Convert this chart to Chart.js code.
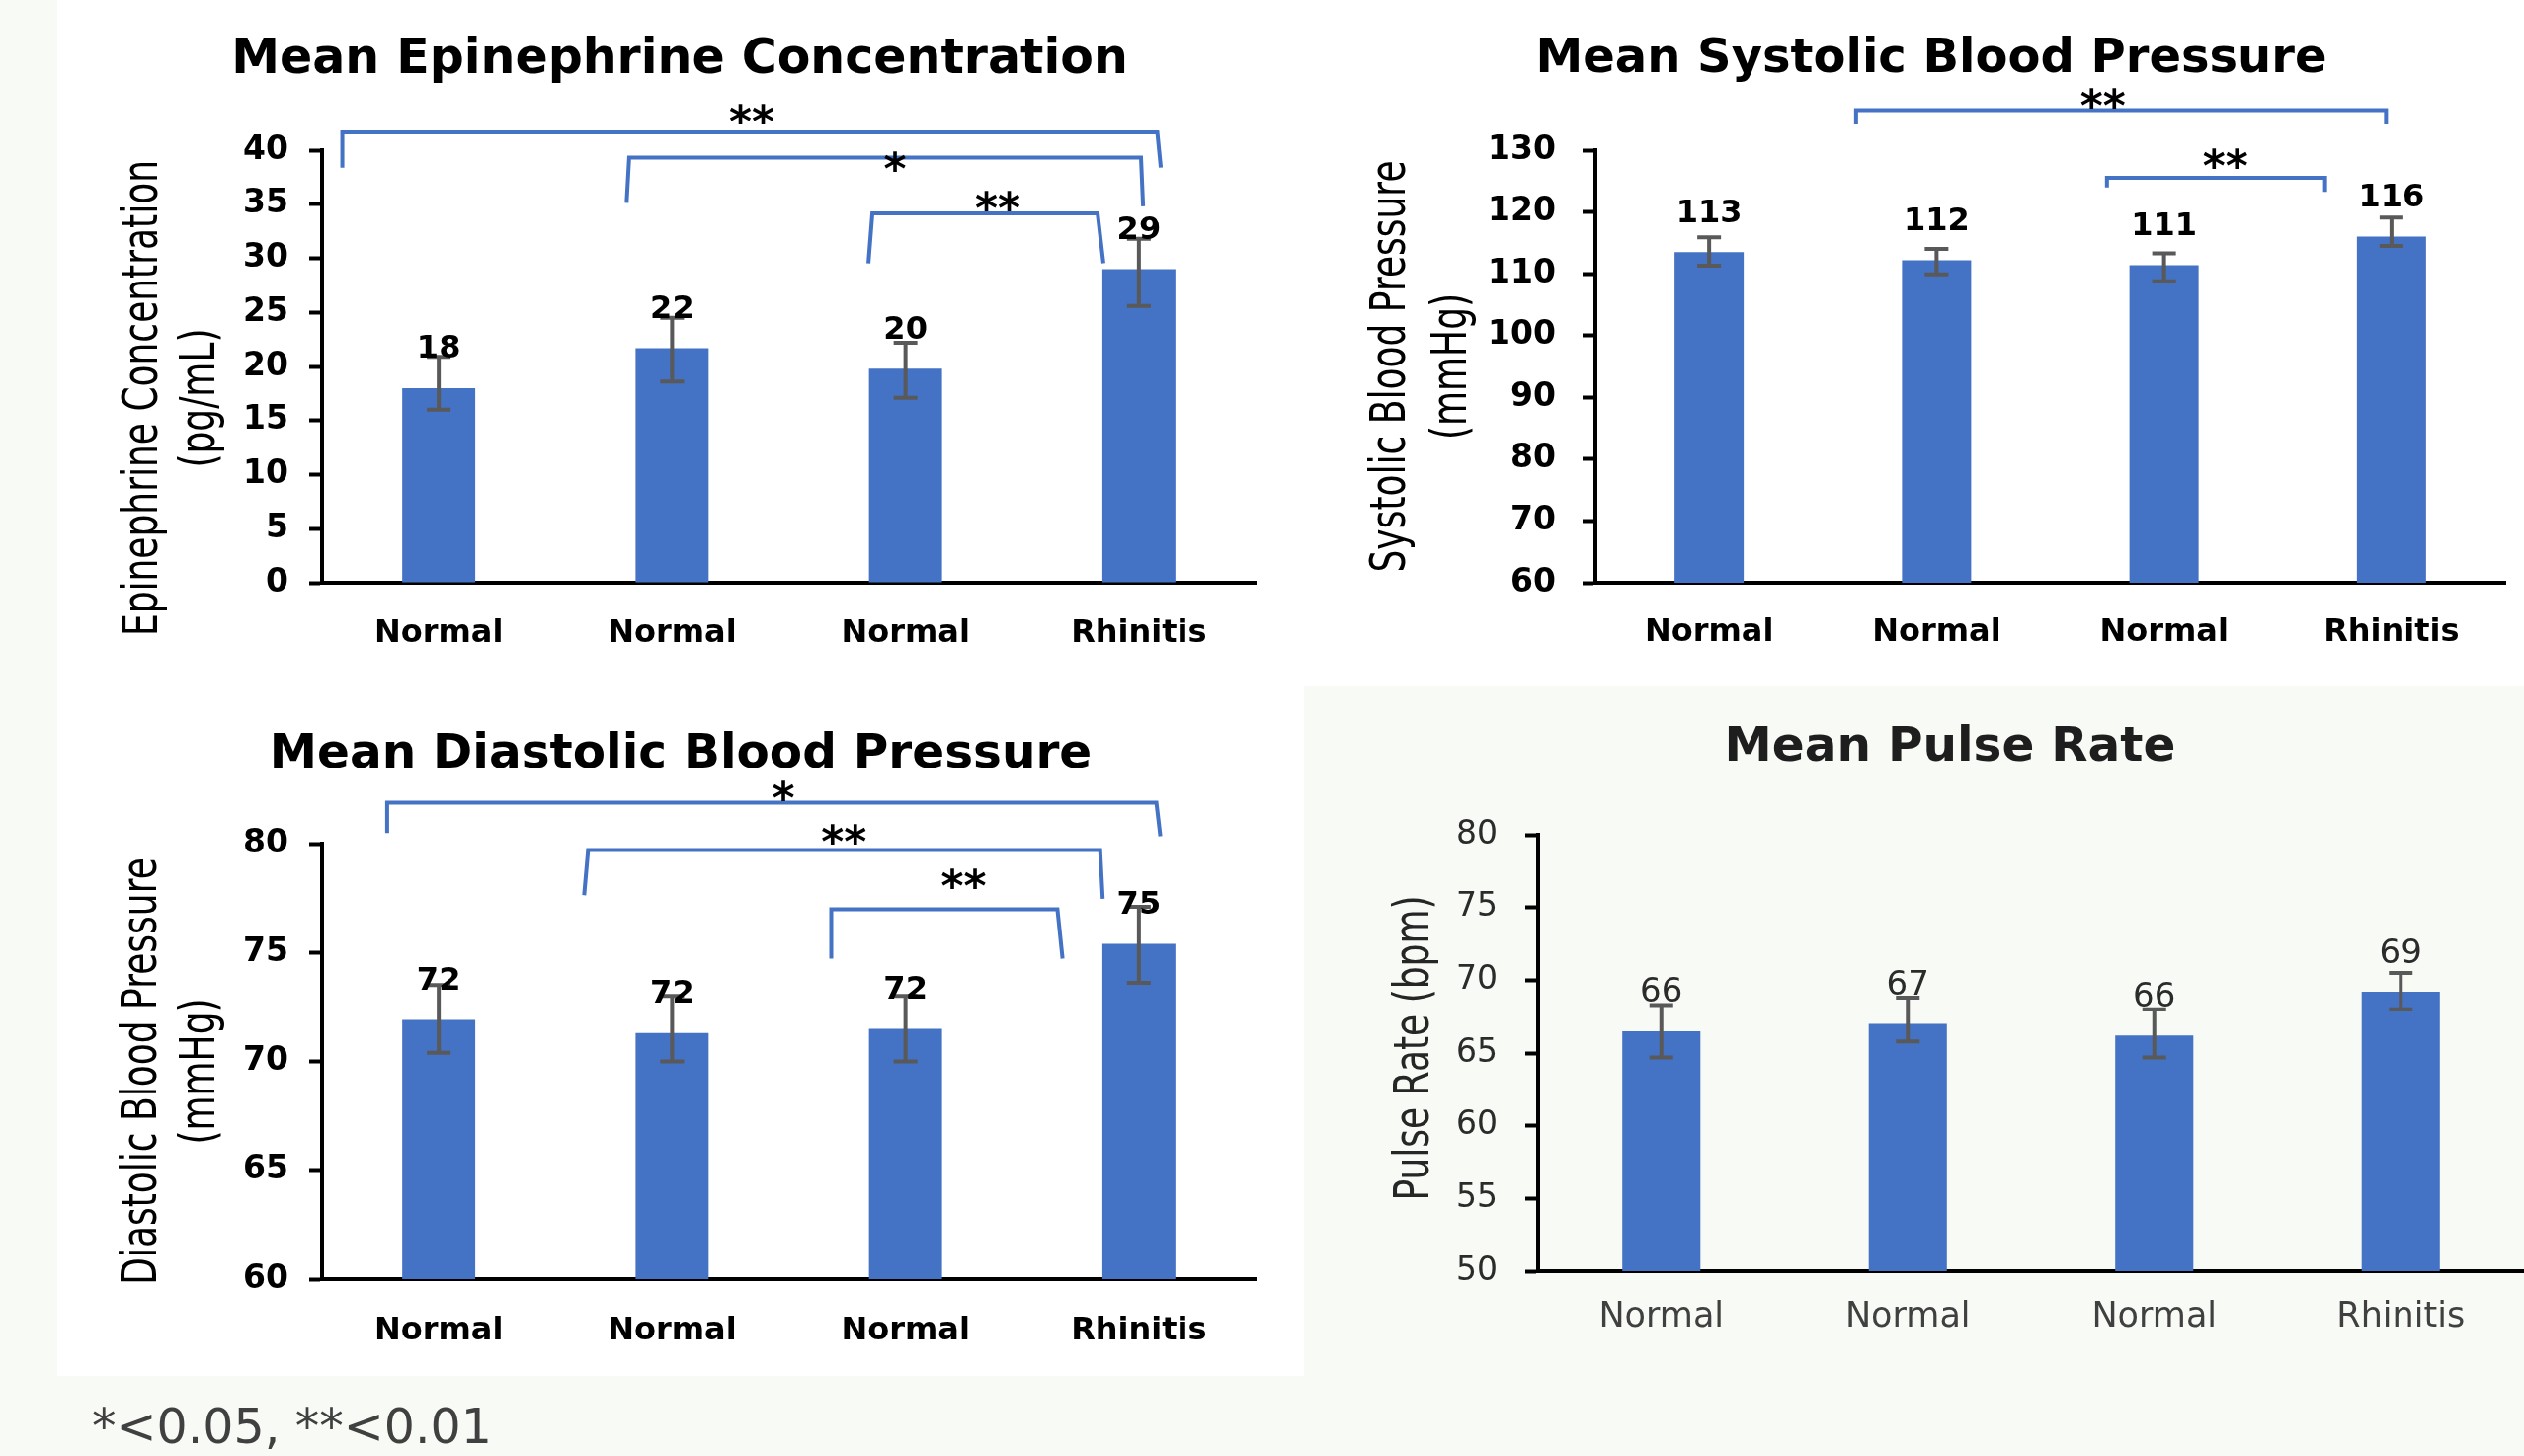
<!DOCTYPE html>
<html><head><meta charset="utf-8">
<script src="https://cdn.jsdelivr.net/npm/chart.js@4.4.1/dist/chart.umd.min.js"></script>
<style>
html,body{margin:0;padding:0;background:#f8faf5;width:2555px;height:1474px;overflow:hidden;}
.panel{position:absolute;background:#ffffff;}
canvas{position:absolute;}
#note{position:absolute;left:93px;top:1420px;font-family:'DejaVu Sans',sans-serif;font-size:49px;line-height:49px;color:#404040;white-space:nowrap;}
</style></head><body>
<div class="panel" style="left:58px;top:0;width:1262px;height:1393px"></div>
<div class="panel" style="left:1320px;top:0;width:1235px;height:694px"></div>
<canvas id="c1" width="1262" height="697" style="left:58px;top:0"></canvas>
<canvas id="c2" width="1235" height="694" style="left:1320px;top:0"></canvas>
<canvas id="c3" width="1262" height="696" style="left:58px;top:697px"></canvas>
<canvas id="c4" width="1235" height="699" style="left:1320px;top:694px"></canvas>
<div id="note">*&lt;0.05, **&lt;0.01</div>
<script>
// ---------------- data ----------------
const categories = ['Normal', 'Normal', 'Normal', 'Rhinitis'];

const epiMean   = [18.0, 21.7, 19.8, 29.0];
const epiHigh   = [20.9, 24.5, 22.2, 31.8];
const epiLow    = [16.0, 18.6, 17.1, 25.6];
const epiLabels = ['18', '22', '20', '29'];
const epiAxis   = [0, 40, 5];

const sysMean   = [113.5, 112.2, 111.4, 116.0];
const sysHigh   = [115.9, 114.0, 113.3, 119.1];
const sysLow    = [111.3, 109.9, 108.8, 114.5];
const sysLabels = ['113', '112', '111', '116'];
const sysAxis   = [60, 130, 10];

const diaMean   = [71.9, 71.3, 71.5, 75.4];
const diaHigh   = [73.5, 73.0, 73.0, 77.1];
const diaLow    = [70.4, 70.0, 70.0, 73.6];
const diaLabels = ['72', '72', '72', '75'];
const diaAxis   = [60, 80, 5];

const pulMean   = [66.5, 67.0, 66.2, 69.2];
const pulHigh   = [68.3, 68.8, 68.0, 70.5];
const pulLow    = [64.7, 65.8, 64.7, 68.0];
const pulLabels = ['66', '67', '66', '69'];
const pulAxis   = [50, 80, 5];

// significance brackets (category index / value units)
const epiBrackets = [
  {x1:-0.413, x1b:-0.413, x2:3.079, x2b:3.094, y:41.65, yb1:38.39, yb2:38.39, mark:'**', mx:1.341, my:43.47},
  {x1:0.816, x1b:0.805, x2:3.009, x2b:3.018, y:39.32, yb1:35.12, yb2:34.80, mark:'*', mx:1.955, my:39.12},
  {x1:1.858, x1b:1.841, x2:2.823, x2b:2.848, y:34.15, yb1:29.54, yb2:29.54, mark:'**', mx:2.395, my:35.45}
];
const sysBrackets = [
  {x1:0.646, x1b:0.646, x2:2.976, x2b:2.976, y:136.46, yb1:134.17, yb2:134.17, mark:'**', mx:1.731, my:138.6},
  {x1:1.749, x1b:1.749, x2:2.708, x2b:2.708, y:125.54, yb1:123.98, yb2:123.26, mark:'**', mx:2.270, my:128.96}
];
const diaBrackets = [
  {x1:-0.221, x1b:-0.221, x2:3.075, x2b:3.092, y:81.88, yb1:80.49, yb2:80.34, mark:'*', mx:1.477, my:82.51},
  {x1:0.640, x1b:0.623, x2:2.834, x2b:2.845, y:79.71, yb1:77.63, yb2:77.47, mark:'**', mx:1.736, my:80.49},
  {x1:1.682, x1b:1.682, x2:2.651, x2b:2.673, y:76.98, yb1:74.72, yb2:74.72, mark:'**', mx:2.249, my:78.48}
];
const pulBrackets = [];

// ---------------- drawing ----------------
Chart.defaults.font.family = "'DejaVu Sans', sans-serif";

const overlay = {
  id: 'overlay',
  afterDatasetsDraw(chart, args, o) {
    const ctx = chart.ctx, xs = chart.scales.x, ys = chart.scales.y;
    ctx.save();
    ctx.strokeStyle = '#595959'; ctx.lineWidth = 4;
    o.high.forEach((h, i) => {
      const px = xs.getPixelForValue(i);
      const t = ys.getPixelForValue(h), b = ys.getPixelForValue(o.low[i]);
      ctx.beginPath();
      ctx.moveTo(px, t); ctx.lineTo(px, b);
      ctx.moveTo(px - 12, t); ctx.lineTo(px + 12, t);
      ctx.moveTo(px - 12, b); ctx.lineTo(px + 12, b);
      ctx.stroke();
    });
    ctx.fillStyle = o.labelColor; ctx.font = o.labelFont;
    ctx.textAlign = 'center'; ctx.textBaseline = 'alphabetic';
    chart.getDatasetMeta(0).data.forEach((bar, i) => {
      ctx.fillText(o.labels[i], bar.x, bar.y - 42 + o.labelCap / 2);
    });
    ctx.restore();
  },
  afterDraw(chart, args, o) {
    const ctx = chart.ctx, xs = chart.scales.x, ys = chart.scales.y, ca = chart.chartArea;
    ctx.save();
    ctx.strokeStyle = '#4472C4'; ctx.lineWidth = 4; ctx.lineJoin = 'miter';
    o.brackets.forEach(b => {
      ctx.beginPath();
      ctx.moveTo(xs.getPixelForValue(b.x1b), ys.getPixelForValue(b.yb1));
      ctx.lineTo(xs.getPixelForValue(b.x1), ys.getPixelForValue(b.y));
      ctx.lineTo(xs.getPixelForValue(b.x2), ys.getPixelForValue(b.y));
      ctx.lineTo(xs.getPixelForValue(b.x2b), ys.getPixelForValue(b.yb2));
      ctx.stroke();
      ctx.fillStyle = '#000'; ctx.font = 'bold 44px "DejaVu Sans"';
      ctx.textAlign = 'center'; ctx.textBaseline = 'alphabetic';
      ctx.fillText(b.mark, xs.getPixelForValue(b.mx), ys.getPixelForValue(b.my) + 24);
    });
    // chart title
    ctx.fillStyle = o.titleColor; ctx.font = o.titleFont;
    ctx.textAlign = 'center'; ctx.textBaseline = 'alphabetic';
    ctx.fillText(o.title, o.titleX, o.titleY);
    // axis title
    o.axisLines.forEach((t, i) => {
      ctx.save();
      ctx.translate(ca.left - o.axisOffsets[i], (ca.top + ca.bottom) / 2 + o.axisDy);
      ctx.rotate(-Math.PI / 2);
      ctx.scale(1, 1.4);
      ctx.font = '36px "DejaVu Sans"'; ctx.fillStyle = o.axisColor;
      ctx.textAlign = 'center'; ctx.textBaseline = 'middle';
      ctx.fillText(t, 0, 0);
      ctx.restore();
    });
    ctx.restore();
  }
};

function makeChart(id, c) {
  return new Chart(document.getElementById(id), {
    type: 'bar',
    data: { labels: categories, datasets: [{ data: c.mean, backgroundColor: '#4472C4', borderWidth: 0, barPercentage: c.barPct, categoryPercentage: 1 }] },
    options: {
      responsive: false, animation: false, devicePixelRatio: 1,
      layout: { padding: c.pad },
      plugins: {
        legend: { display: false }, title: { display: false }, tooltip: { enabled: false },
        overlay: {
          high: c.high, low: c.low, labels: c.labels, labelFont: c.labelFont, labelColor: c.textColor, labelCap: c.labelCap,
          brackets: c.brackets, title: c.title, titleX: c.titleX, titleY: c.titleY, titleFont: c.titleFont, titleColor: c.titleColor,
          axisLines: c.axisLines, axisOffsets: c.axisOffsets, axisDy: c.axisDy, axisColor: c.axisColor
        }
      },
      scales: {
        x: {
          z: 1,
          grid: { display: false, drawTicks: false },
          border: { display: true, color: '#000', width: 4 },
          ticks: { color: c.xColor, font: c.xFont, padding: c.xPad, maxRotation: 0, autoSkip: false },
          afterFit: s => { s.height = c.xH; }
        },
        y: {
          z: 1,
          min: c.axis[0], max: c.axis[1],
          ticks: { stepSize: c.axis[2], color: c.textColor, font: c.yFont, padding: c.yPad },
          grid: { drawOnChartArea: false, drawTicks: true, tickLength: 13, tickWidth: 4, tickColor: '#000', color: '#000' },
          border: { display: true, color: '#000', width: 4 },
          afterFit: s => { s.width = c.yW; }
        }
      }
    },
    plugins: [overlay]
  });
}

const boldTick = { size: 33, weight: 'bold' };
const boldX = { size: 32, weight: 'bold' };

makeChart('c1', {
  mean: epiMean, high: epiHigh, low: epiLow, labels: epiLabels, axis: epiAxis, brackets: epiBrackets,
  pad: { left: 0, right: 49, top: 152, bottom: 0 }, yW: 268, xH: 107, barPct: 0.313,
  textColor: '#000', xColor: '#000', xFont: boldX, xPad: 32, yFont: boldTick, yPad: 21,
  labelFont: 'bold 32px "DejaVu Sans"', labelCap: 23,
  title: 'Mean Epinephrine Concentration', titleX: 630, titleY: 74, titleFont: 'bold 49px "DejaVu Sans"', titleColor: '#000',
  axisLines: ['Epinephrine Concentration', '(pg/mL)'], axisOffsets: [180, 122], axisDy: 32, axisColor: '#000'
});
makeChart('c2', {
  mean: sysMean, high: sysHigh, low: sysLow, labels: sysLabels, axis: sysAxis, brackets: sysBrackets,
  pad: { left: 0, right: 19, top: 152, bottom: 0 }, yW: 295, xH: 104, barPct: 0.304,
  textColor: '#000', xColor: '#000', xFont: boldX, xPad: 31, yFont: boldTick, yPad: 27,
  labelFont: 'bold 32px "DejaVu Sans"', labelCap: 23,
  title: 'Mean Systolic Blood Pressure', titleX: 635, titleY: 73, titleFont: 'bold 48px "DejaVu Sans"', titleColor: '#000',
  axisLines: ['Systolic Blood Pressure', '(mmHg)'], axisOffsets: [206, 144], axisDy: 0, axisColor: '#000'
});
makeChart('c3', {
  mean: diaMean, high: diaHigh, low: diaLow, labels: diaLabels, axis: diaAxis, brackets: diaBrackets,
  pad: { left: 0, right: 49, top: 157, bottom: 0 }, yW: 268, xH: 98, barPct: 0.313,
  textColor: '#000', xColor: '#000', xFont: boldX, xPad: 33, yFont: boldTick, yPad: 21,
  labelFont: 'bold 32px "DejaVu Sans"', labelCap: 23,
  title: 'Mean Diastolic Blood Pressure', titleX: 631, titleY: 80, titleFont: 'bold 48.5px "DejaVu Sans"', titleColor: '#000',
  axisLines: ['Diastolic Blood Pressure', '(mmHg)'], axisOffsets: [181, 122], axisDy: 10, axisColor: '#000'
});
makeChart('c4', {
  mean: pulMean, high: pulHigh, low: pulLow, labels: pulLabels, axis: pulAxis, brackets: pulBrackets,
  pad: { left: 0, right: 0, top: 151, bottom: 0 }, yW: 237, xH: 106, barPct: 0.317,
  textColor: '#2b2b2b', xColor: '#404040', xFont: { size: 35 }, xPad: 26, yFont: { size: 33 }, yPad: 28,
  labelFont: '34px "DejaVu Sans"', labelCap: 25,
  title: 'Mean Pulse Rate', titleX: 654, titleY: 76, titleFont: 'bold 48.5px "DejaVu Sans"', titleColor: '#1e1e1e',
  axisLines: ['Pulse Rate (bpm)'], axisOffsets: [124], axisDy: -5, axisColor: '#262626'
});
</script>
</body></html>
